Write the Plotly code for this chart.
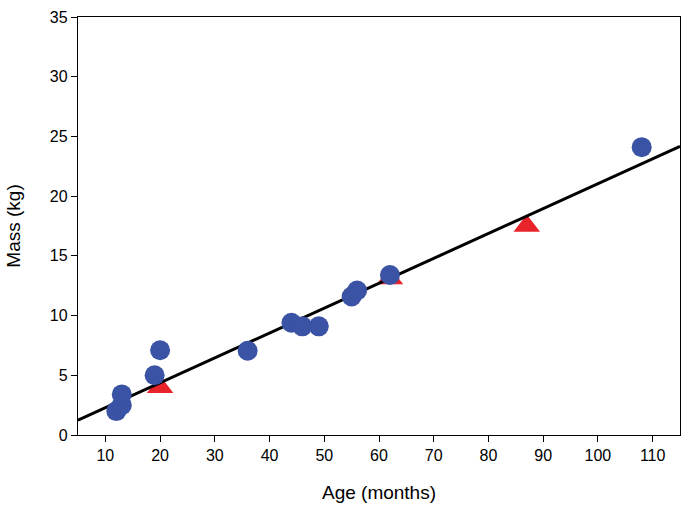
import plotly.graph_objects as go

# Blue circles
circle_age = [12, 13, 13, 19, 20, 36, 44, 46, 49, 55, 56, 62, 108]
circle_mass = [2.0, 2.5, 3.4, 5.0, 7.1, 7.05, 9.4, 9.1, 9.1, 11.6, 12.1, 13.4, 24.1]

# Red triangles
tri_age = [20, 62, 87]
tri_mass = [4.0, 13.1, 17.5]

# Regression line endpoints
fit_age = [5, 115]
fit_mass = [1.24, 24.17]

x_ticks = [10, 20, 30, 40, 50, 60, 70, 80, 90, 100, 110]
y_ticks = [0, 5, 10, 15, 20, 25, 30, 35]

fig = go.Figure()
fig.add_trace(go.Scatter(
    x=tri_age, y=tri_mass, mode="markers",
    marker=dict(symbol="triangle-up", size=23, color="#E8232A", line=dict(width=0)),
    showlegend=False, cliponaxis=False))
fig.add_trace(go.Scatter(
    x=fit_age, y=fit_mass, mode="lines",
    line=dict(color="black", width=3), showlegend=False))
fig.add_trace(go.Scatter(
    x=circle_age, y=circle_mass, mode="markers",
    marker=dict(symbol="circle", size=20, color="#3A53A4", line=dict(width=0)),
    showlegend=False, cliponaxis=False))

font_family = "Liberation Sans, Arial, sans-serif"
fig.update_layout(
    width=690, height=512,
    margin=dict(l=77.5, r=8.5, t=12.5, b=77),
    paper_bgcolor="white", plot_bgcolor="white",
    font=dict(family=font_family, color="black", size=15),
    xaxis=dict(
        range=[5, 115], tickvals=x_ticks, ticktext=[str(v) for v in x_ticks],
        showgrid=False, zeroline=False, showline=True, linecolor="black",
        linewidth=1.3, mirror=True, ticks="outside", ticklen=6, tickwidth=1.3,
        tickcolor="black", tickfont=dict(size=16),
        title=dict(text="Age (months)", font=dict(size=19), standoff=22)),
    yaxis=dict(
        range=[0, 35], tickvals=y_ticks, ticktext=[str(v) for v in y_ticks],
        showgrid=False, zeroline=False, showline=True, linecolor="black",
        linewidth=1.3, mirror=True, ticks="outside", ticklen=6, tickwidth=1.3,
        tickcolor="black", tickfont=dict(size=16),
        title=dict(text="Mass (kg)", font=dict(size=19), standoff=24)),
)

fig.write_html("out.html", config={"displayModeBar": False},
               post_script="document.body.style.margin='0';document.body.style.overflow='hidden';")
